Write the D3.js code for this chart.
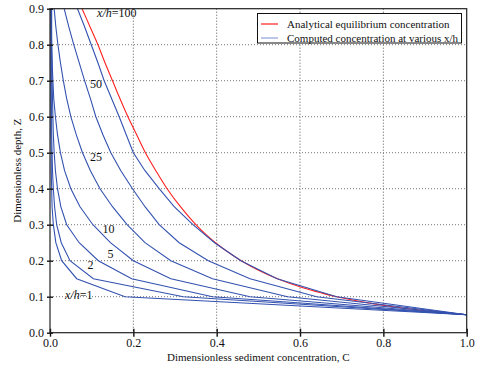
<!DOCTYPE html>
<html><head><meta charset="utf-8">
<script src="https://cdn.jsdelivr.net/npm/d3@7/dist/d3.min.js"></script>
<style>body{margin:0;background:#fff}text{font-family:"Liberation Serif","DejaVu Serif",serif;fill:#111}</style>
</head><body><svg id="c" width="479" height="367"></svg>
<script>
// ---- data ----
const xTicks = [0.0, 0.2, 0.4, 0.6, 0.8, 1.0];
const yTicks = [0.0, 0.1, 0.2, 0.3, 0.4, 0.5, 0.6, 0.7, 0.8, 0.9];
const xGrid = [0.2, 0.4, 0.6, 0.8];
const yGrid = [0.1, 0.2, 0.3, 0.4, 0.5, 0.6, 0.7, 0.8];

// analytical equilibrium profile
const zAnalytical = [0.05, 0.055, 0.06, 0.065, 0.07, 0.08, 0.09, 0.1, 0.11, 0.125, 0.15, 0.175, 0.2, 0.225, 0.25, 0.275, 0.3, 0.35, 0.4, 0.45, 0.5, 0.55, 0.6, 0.65, 0.7, 0.75, 0.8, 0.85, 0.9];
const cAnalytical = [1.0, 0.951, 0.908, 0.870, 0.836, 0.778, 0.729, 0.688, 0.653, 0.607, 0.546, 0.498, 0.459, 0.426, 0.397, 0.372, 0.350, 0.313, 0.281, 0.254, 0.229, 0.208, 0.187, 0.168, 0.150, 0.132, 0.115, 0.096, 0.077];

// computed profiles at the grid depths
const zNodes = [0.05, 0.10, 0.15, 0.20, 0.25, 0.30, 0.35, 0.40, 0.45, 0.50, 0.55, 0.60, 0.65, 0.70, 0.75, 0.80, 0.85, 0.90];
const cXh1   = [1.0, 0.180, 0.064, 0.028, 0.014, 0.008, 0.005, 0.004, 0.003, 0.003, 0.002, 0.002, 0.002, 0.002, 0.002, 0.002, 0.002, 0.002];
const cXh2   = [1.0, 0.320, 0.104, 0.048, 0.027, 0.016, 0.011, 0.008, 0.006, 0.005, 0.004, 0.004, 0.003, 0.003, 0.003, 0.003, 0.003, 0.003];
const cXh5   = [1.0, 0.390, 0.196, 0.116, 0.070, 0.040, 0.026, 0.018, 0.013, 0.010, 0.008, 0.007, 0.006, 0.005, 0.005, 0.004, 0.004, 0.004];
const cXh10  = [1.0, 0.480, 0.290, 0.200, 0.145, 0.103, 0.072, 0.050, 0.035, 0.025, 0.018, 0.013, 0.009, 0.007, 0.005, 0.004, 0.003, 0.003];
const cXh25  = [1.0, 0.570, 0.390, 0.290, 0.228, 0.185, 0.150, 0.120, 0.097, 0.078, 0.063, 0.050, 0.040, 0.032, 0.025, 0.019, 0.014, 0.010];
const cXh50  = [1.0, 0.640, 0.480, 0.380, 0.310, 0.262, 0.228, 0.198, 0.170, 0.146, 0.127, 0.110, 0.097, 0.083, 0.070, 0.057, 0.045, 0.034];
const cXh100 = [1.0, 0.688, 0.545, 0.458, 0.395, 0.343, 0.298, 0.262, 0.228, 0.200, 0.183, 0.166, 0.148, 0.130, 0.115, 0.099, 0.083, 0.066];

// curve labels
const curveLabels = [
  {c: 0.113, z: 0.878, num: "100", xh: true},
  {c: 0.096, z: 0.679, num: "50"},
  {c: 0.096, z: 0.478, num: "25"},
  {c: 0.126, z: 0.278, num: "10"},
  {c: 0.138, z: 0.207, num: "5"},
  {c: 0.090, z: 0.177, num: "2"},
  {c: 0.036, z: 0.093, num: "1", xh: true}
];
const legendItems = [
  {label: "Analytical equilibrium concentration", color: "#ff2020"},
  {label: "Computed concentration at various x/h", color: "#8f9fd8"}
];
const xTitle = "Dimensionless sediment concentration, C";
const yTitle = "Dimensionless depth, Z";

// ---- drawing ----
const svg = d3.select("#c");
const L = 50, R = 466.7, T = 8.7, B = 332.7;
const x = d3.scaleLinear().domain([0, 1]).range([L, R]);
const y = d3.scaleLinear().domain([0, 0.9]).range([B, T]);
const blue = "#3352b0", red = "#ff2020";
const SERIF = '"Liberation Serif", "DejaVu Serif", serif';

svg.append("rect").attr("width", 479).attr("height", 367).attr("fill", "#fff");
svg.append("defs").append("clipPath").attr("id", "clip")
  .append("rect").attr("x", L).attr("y", T).attr("width", R - L).attr("height", B - T);

// grid
const g = svg.append("g");
g.selectAll("line.gx").data(xGrid).join("line")
  .attr("x1", d => x(d)).attr("x2", d => x(d)).attr("y1", T).attr("y2", B)
  .attr("stroke", "#555").attr("stroke-width", 1).attr("stroke-dasharray", "1,2");
g.selectAll("line.gy").data(yGrid).join("line")
  .attr("y1", d => y(d)).attr("y2", d => y(d)).attr("x1", L).attr("x2", R)
  .attr("stroke", "#777").attr("stroke-width", 1).attr("stroke-dasharray", "1,2");

// analytical curve
const plot = svg.append("g").attr("clip-path", "url(#clip)");
const redLine = d3.line().x(d => x(d[0])).y(d => y(d[1])).curve(d3.curveCatmullRom);
plot.append("path").datum(d3.zip(cAnalytical, zAnalytical))
  .attr("d", redLine).attr("fill", "none").attr("stroke", red).attr("stroke-width", 1.1);

// computed curves
const series = [cXh1, cXh2, cXh5, cXh10, cXh25, cXh50, cXh100];
const blueLine = d3.line().x(d => x(d[0])).y(d => y(d[1]));
plot.selectAll("path.b").data(series).join("path")
  .attr("d", s => blueLine(d3.zip(s, zNodes)))
  .attr("fill", "none").attr("stroke", blue).attr("stroke-width", 1.1);

// axes
const xAxis = svg.append("g").attr("transform", `translate(0,${B})`)
  .call(d3.axisBottom(x).tickValues(xTicks).tickFormat(d3.format(".1f")).tickSize(4).tickPadding(2));
const yAxis = svg.append("g").attr("transform", `translate(${L},0)`)
  .call(d3.axisLeft(y).tickValues(yTicks).tickFormat(d3.format(".1f")).tickSize(3).tickPadding(3));
[xAxis, yAxis].forEach(a => {
  a.attr("font-family", null);
  a.select(".domain").remove();
  a.selectAll("text").style("font-family", SERIF).style("font-size", "12px").attr("fill", "#111");
  a.selectAll(".tick line").attr("stroke", "#111").attr("stroke-width", 1.4);
});
xAxis.selectAll(".tick line").attr("y1", -4);
yAxis.selectAll(".tick line").attr("x1", 3);

// frame
svg.append("rect").attr("x", L).attr("y", T).attr("width", R - L).attr("height", B - T)
  .attr("fill", "none").attr("stroke", "#222").attr("stroke-width", 1.2);

// curve labels
curveLabels.forEach(l => {
  const t = svg.append("text").attr("x", x(l.c)).attr("y", y(l.z))
    .style("font-family", SERIF).style("font-size", "12px");
  if (l.xh) {
    t.append("tspan").style("font-style", "italic").text("x/h");
    t.append("tspan").text("=" + l.num);
  } else {
    t.text(l.num);
  }
});

// legend
const lg = svg.append("g");
lg.append("rect").attr("x", 257.5).attr("y", 13.5).attr("width", 204).attr("height", 29.5)
  .attr("fill", "#fff").attr("stroke", "#111").attr("stroke-width", 1);
legendItems.forEach((it, i) => {
  const yy = 24 + i * 14;
  lg.append("line").attr("x1", 261).attr("x2", 278).attr("y1", yy).attr("y2", yy)
    .attr("stroke", it.color).attr("stroke-width", 1.2);
  lg.append("text").attr("x", 287).attr("y", yy + 3.5)
    .style("font-family", SERIF).style("font-size", "11px").text(it.label);
});

// titles
svg.append("text").attr("x", (L + R) / 2).attr("y", 361).attr("text-anchor", "middle")
  .style("font-family", SERIF).style("font-size", "11px").text(xTitle);
svg.append("text").attr("transform", `translate(21,${(T + B) / 2}) rotate(-90)`).attr("text-anchor", "middle")
  .style("font-family", SERIF).style("font-size", "11px").text(yTitle);
</script></body></html>
